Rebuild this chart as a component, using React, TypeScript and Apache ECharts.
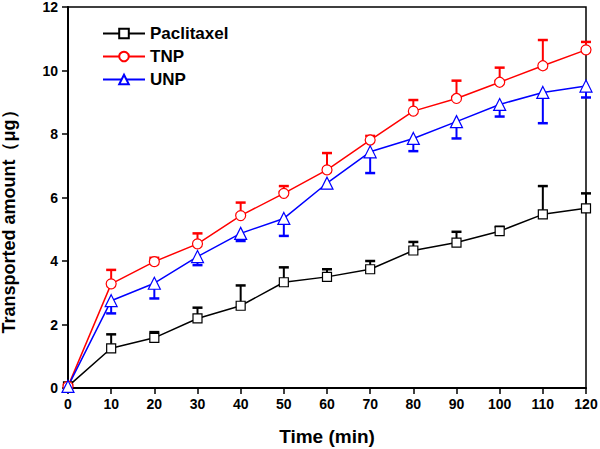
import React, { useEffect, useRef } from "react";
import * as echarts from "echarts";

const times = [0, 10, 20, 30, 40, 50, 60, 70, 80, 90, 100, 110, 120];
const paclitaxel = [0.05, 1.25, 1.58, 2.19, 2.59, 3.33, 3.5, 3.74, 4.33, 4.58, 4.94, 5.47, 5.66];
const paclitaxelErrTop = [null, 1.69, 1.76, 2.53, 3.23, 3.8, 3.74, 4.0, 4.6, 4.92, 5.08, 6.36, 6.13];
const tnp = [0.05, 3.28, 3.98, 4.54, 5.43, 6.13, 6.87, 7.81, 8.72, 9.12, 9.63, 10.15, 10.65];
const tnpErrTop = [null, 3.72, 4.1, 4.87, 5.84, 6.36, 7.4, 7.94, 9.07, 9.68, 10.09, 10.96, 10.9];
const unp = [0.05, 2.75, 3.3, 4.14, 4.87, 5.34, 6.45, 7.44, 7.86, 8.39, 8.93, 9.31, 9.51];
const unpErrBottom = [null, 2.35, 2.82, 3.87, 4.63, 4.79, 6.3, 6.77, 7.46, 7.86, 8.55, 8.34, 9.15];
const yTicks = [0, 2, 4, 6, 8, 10, 12];

const FONT = "Liberation Sans, Arial, sans-serif";

function pairs(vals: number[]) {
  return times.map((t, i) => [t, vals[i]]);
}

function errData(vals: number[], ends: (number | null)[]) {
  const out: number[][] = [];
  times.forEach((t, i) => {
    const e = ends[i];
    if (e !== null && e !== undefined) out.push([t, vals[i], e]);
  });
  return out;
}

function errSeries(name: string, color: string, data: number[][]) {
  return {
    type: "custom",
    name: name + "-err",
    z: 1,
    silent: true,
    data,
    encode: { x: 0, y: [1, 2] },
    renderItem: (params: any, api: any) => {
      const x = api.value(0);
      const v = api.value(1);
      const e = api.value(2);
      const p0 = api.coord([x, v]);
      const p1 = api.coord([x, e]);
      const half = 5;
      return {
        type: "group",
        children: [
          {
            type: "line",
            shape: { x1: p0[0], y1: p0[1], x2: p1[0], y2: p1[1] },
            style: { stroke: color, lineWidth: 2 },
          },
          {
            type: "line",
            shape: { x1: p1[0] - half, y1: p1[1], x2: p1[0] + half, y2: p1[1] },
            style: { stroke: color, lineWidth: 2.5 },
          },
        ],
      };
    },
  };
}

export default function App() {
  const ref = useRef<HTMLDivElement>(null);
  useEffect(() => {
    if (!ref.current) return;
    const chart = echarts.init(ref.current, undefined, { renderer: "svg" });
    const lineSeries = (name: string, color: string, symbol: string, size: number, vals: number[]) => ({
      type: "line",
      name,
      data: pairs(vals),
      z: 3,
      symbol,
      symbolSize: size,
      showAllSymbol: true,
      lineStyle: { color, width: 1.5 },
      itemStyle: { color: "#fff", borderColor: color, borderWidth: 1.2 },
    });
    chart.setOption({
      animation: false,
      backgroundColor: "#fff",
      grid: {
        left: 68,
        right: 14,
        top: 7,
        bottom: 61,
        show: true,
        borderColor: "#000",
        borderWidth: 1.5,
        backgroundColor: "transparent",
        outerBoundsMode: "none",
        containLabel: false,
      },
      legend: {
        orient: "vertical",
        left: 97,
        top: 20,
        itemGap: 6,
        itemWidth: 42,
        itemHeight: 12,
        data: ["Paclitaxel", "TNP", "UNP"],
        textStyle: { fontFamily: FONT, fontWeight: "bold", fontSize: 17, color: "#000" },
      },
      xAxis: {
        type: "value",
        min: 0,
        max: 120,
        interval: 10,
        name: "Time (min)",
        nameLocation: "middle",
        nameGap: 39,
        nameTextStyle: { fontFamily: FONT, fontWeight: "bold", fontSize: 19, color: "#000" },
        axisLine: { lineStyle: { color: "#000", width: 2 } },
        axisTick: { show: true, length: 6, lineStyle: { color: "#000", width: 1.5 } },
        axisLabel: { fontFamily: FONT, fontWeight: "bold", fontSize: 14, color: "#000", margin: 9, hideOverlap: false },
        splitLine: { show: false },
      },
      yAxis: {
        type: "value",
        min: 0,
        max: 12,
        interval: 2,
        name: "Transported amount（μg）",
        nameLocation: "middle",
        nameGap: 50,
        nameTextStyle: {
          fontFamily: FONT,
          fontWeight: "bold",
          fontSize: 18,
          color: "#000",
          padding: [0, 40, 0, 0],
        },
        axisLine: { lineStyle: { color: "#000", width: 2 } },
        axisTick: { show: true, length: 6, lineStyle: { color: "#000", width: 1.5 } },
        axisLabel: {
          fontFamily: FONT,
          fontWeight: "bold",
          fontSize: 14,
          color: "#000",
          margin: 10,
          formatter: (v: number) => (yTicks.includes(v) ? String(v) : ""),
        },
        splitLine: { show: false },
      },
      series: [
        errSeries("Paclitaxel", "#000", errData(paclitaxel, paclitaxelErrTop)),
        errSeries("TNP", "#ff0000", errData(tnp, tnpErrTop)),
        errSeries("UNP", "#0000ff", errData(unp, unpErrBottom)),
        lineSeries("Paclitaxel", "#000", "rect", 9, paclitaxel),
        lineSeries("TNP", "#ff0000", "circle", 10, tnp),
        lineSeries("UNP", "#0000ff", "triangle", 12, unp),
      ],
    });
    return () => chart.dispose();
  }, []);
  return <div ref={ref} style={{ position: "absolute", left: 0, top: 0, width: 600, height: 449 }} />;
}
